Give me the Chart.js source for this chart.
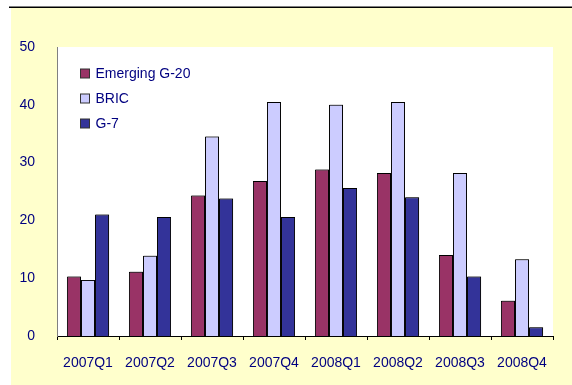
<!DOCTYPE html>
<html>
<head>
<meta charset="utf-8">
<script src="https://cdn.jsdelivr.net/npm/chart.js@4"></script>
<style>
  html, body { margin: 0; padding: 0; background: #fff; }
  #wrap { width: 572px; height: 385px; position: relative; }
</style>
</head>
<body>
<div id="wrap"><canvas id="chart" width="572" height="385"></canvas></div>
<script>
const categories = ["2007Q1", "2007Q2", "2007Q3", "2007Q4", "2008Q1", "2008Q2", "2008Q3", "2008Q4"];
const emergingG20 = [10.3, 11.1, 24.3, 26.8, 28.8, 28.2, 14.0, 6.1];
const bric = [9.7, 13.9, 34.5, 40.5, 40.0, 40.5, 28.2, 13.3];
const g7 = [21.0, 20.6, 23.8, 20.6, 25.6, 24.0, 10.3, 1.5];
const seriesNames = ["Emerging G-20", "BRIC", "G-7"];
const seriesColors = ["#993366", "#CCCCFF", "#333399"];

const navy = "#000080";
const fontFamily = "'Liberation Sans', Arial, sans-serif";

// yellow panel, black rule at the top, white plot area
const background = {
  id: "background",
  beforeDraw(chart) {
    const { ctx, chartArea } = chart;
    ctx.save();
    ctx.fillStyle = "#FFFFFF";
    ctx.fillRect(0, 0, chart.width, chart.height);
    ctx.fillStyle = "#FFFFCC";
    ctx.fillRect(11, 8, chart.width - 11, chart.height - 8);
    ctx.fillStyle = "#000000";
    ctx.fillRect(9, 6.5, chart.width - 9, 1.5);
    ctx.fillStyle = "#FFFFFF";
    ctx.fillRect(chartArea.left, chartArea.top, chartArea.right - chartArea.left, chartArea.bottom - chartArea.top);
    ctx.restore();
  },
};

// soft grey edge on the bars, like the original
const barShadow = {
  id: "barShadow",
  beforeDatasetsDraw(chart) {
    const { ctx } = chart;
    ctx.save();
    ctx.shadowColor = "rgba(0,0,0,0.35)";
    ctx.shadowOffsetX = 1;
    ctx.shadowOffsetY = -1;
    ctx.shadowBlur = 0;
  },
  afterDatasetsDraw(chart) {
    chart.ctx.restore();
  },
};

// legend drawn inside the plot, top-left
const insideLegend = {
  id: "insideLegend",
  afterDatasetsDraw(chart) {
    const { ctx, chartArea } = chart;
    ctx.save();
    ctx.font = "14px " + fontFamily;
    ctx.textBaseline = "middle";
    chart.data.datasets.forEach((ds, i) => {
      const y = chartArea.top + 27 + i * 25;
      const x = chartArea.left + 23.5;
      ctx.fillStyle = ds.backgroundColor;
      ctx.fillRect(x, y - 5, 9, 9);
      ctx.strokeStyle = "#333333";
      ctx.lineWidth = 1;
      ctx.strokeRect(x, y - 5, 9, 9);
      ctx.fillStyle = navy;
      ctx.fillText(ds.label, x + 15, y);
    });
    ctx.restore();
  },
};

new Chart(document.getElementById("chart"), {
  type: "bar",
  data: {
    labels: categories,
    datasets: [emergingG20, bric, g7].map((values, i) => ({
      label: seriesNames[i],
      data: values,
      backgroundColor: seriesColors[i],
      borderColor: "#000000",
      borderWidth: 1,
      barPercentage: 1,
      categoryPercentage: 0.68,
    })),
  },
  options: {
    responsive: false,
    animation: false,
    layout: { padding: { left: 0, right: 19, top: 47, bottom: 0 } },
    plugins: {
      legend: { display: false },
      tooltip: { enabled: false },
    },
    scales: {
      x: {
        grid: { display: true, drawOnChartArea: false, color: "#000000", tickLength: 4, offset: true },
        border: { display: true, color: "#000000", width: 1 },
        ticks: { color: navy, font: { family: fontFamily, size: 14 }, padding: 15, maxRotation: 0 },
        afterFit(scale) { scale.height = 49; },
      },
      y: {
        min: 0,
        max: 50,
        ticks: { stepSize: 10, color: navy, font: { family: fontFamily, size: 14 }, padding: 14 },
        grid: { display: false },
        border: { display: true, color: "#808080", width: 1 },
        afterFit(scale) { scale.width = 57; },
      },
    },
  },
  plugins: [background, barShadow, insideLegend],
});
</script>
</body>
</html>
